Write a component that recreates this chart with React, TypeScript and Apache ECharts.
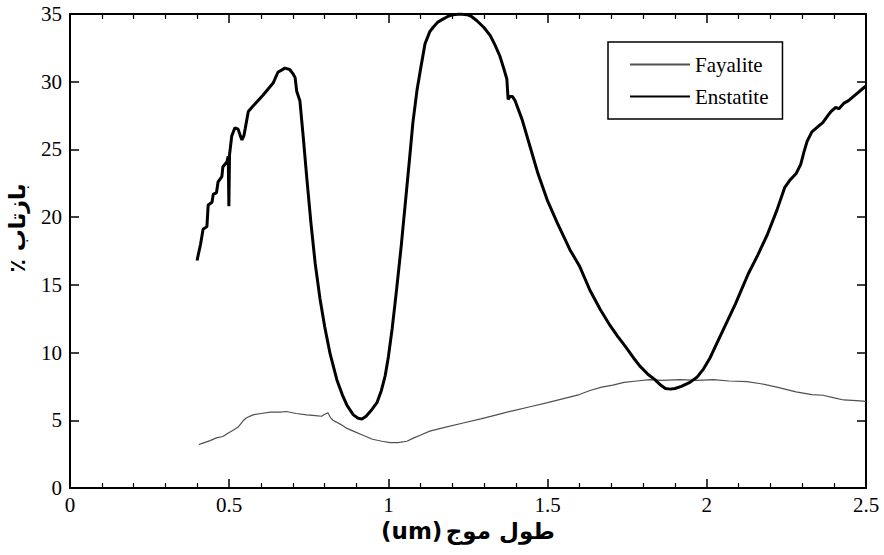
import React, { useEffect, useRef } from "react";
import * as echarts from "echarts";

const seriesNames = ["Fayalite", "Enstatite"];

const fayalite: [number, number][] = [
  [0.405, 3.2], [0.415, 3.3], [0.44, 3.5], [0.46, 3.7], [0.48, 3.8], [0.5, 4.1], [0.515, 4.3],
  [0.528, 4.5], [0.545, 5.0], [0.556, 5.2], [0.575, 5.4], [0.6, 5.5], [0.63, 5.6], [0.66, 5.6],
  [0.68, 5.65], [0.71, 5.5], [0.744, 5.4], [0.77, 5.35], [0.79, 5.3], [0.8, 5.45], [0.81, 5.55],
  [0.818, 5.2], [0.826, 5.0], [0.85, 4.7], [0.87, 4.4], [0.89, 4.2], [0.92, 3.9], [0.95, 3.6],
  [0.98, 3.45], [1.005, 3.35], [1.03, 3.35], [1.058, 3.45], [1.08, 3.7], [1.1, 3.9], [1.13, 4.2],
  [1.18, 4.5], [1.235, 4.8], [1.29, 5.1], [1.34, 5.4], [1.39, 5.7], [1.445, 6.0], [1.5, 6.3],
  [1.55, 6.6], [1.6, 6.9], [1.633, 7.2], [1.67, 7.45], [1.705, 7.6], [1.74, 7.8], [1.78, 7.9],
  [1.82, 8.0], [1.86, 7.95], [1.916, 8.0], [1.97, 7.95], [2.02, 8.0], [2.07, 7.9], [2.126, 7.85],
  [2.17, 7.7], [2.22, 7.45], [2.28, 7.1], [2.33, 6.9], [2.365, 6.85], [2.4, 6.65], [2.43, 6.5],
  [2.47, 6.45], [2.5, 6.4],
];

const enstatite: [number, number][] = [
  [0.399, 16.8], [0.41, 18.0], [0.418, 19.1], [0.43, 19.3], [0.434, 20.9], [0.446, 21.1],
  [0.45, 21.7], [0.46, 21.8], [0.465, 22.6], [0.477, 23.0], [0.48, 23.7], [0.493, 24.1],
  [0.497, 24.5], [0.499, 20.8], [0.501, 24.6], [0.508, 26.0], [0.518, 26.6], [0.528, 26.5],
  [0.535, 26.0], [0.54, 25.7], [0.546, 26.0], [0.55, 26.5], [0.56, 27.8], [0.575, 28.2],
  [0.606, 29.0], [0.638, 29.9], [0.653, 30.7], [0.675, 31.0], [0.69, 30.9], [0.7, 30.6],
  [0.707, 30.3], [0.712, 29.3], [0.722, 28.6], [0.733, 25.8], [0.744, 22.8], [0.757, 19.5],
  [0.77, 16.6], [0.785, 14.0], [0.8, 11.9], [0.817, 9.9], [0.838, 8.0], [0.855, 6.9], [0.87, 6.1],
  [0.89, 5.4], [0.905, 5.15], [0.917, 5.1], [0.93, 5.3], [0.945, 5.7], [0.964, 6.3], [0.978, 7.2],
  [0.99, 8.3], [1.0, 9.7], [1.012, 11.8], [1.025, 14.5], [1.04, 17.8], [1.055, 21.5],
  [1.068, 24.7], [1.077, 27.0], [1.09, 29.4], [1.1, 30.8], [1.115, 32.8], [1.13, 33.7],
  [1.14, 34.0], [1.155, 34.4], [1.17, 34.6], [1.185, 34.8], [1.203, 34.95], [1.225, 35.0],
  [1.247, 34.95], [1.262, 34.8], [1.278, 34.5], [1.3, 34.0], [1.32, 33.4], [1.335, 32.7],
  [1.35, 31.9], [1.362, 31.0], [1.372, 30.2], [1.376, 28.7], [1.382, 28.9], [1.39, 28.9],
  [1.398, 28.6], [1.42, 27.2], [1.445, 25.2], [1.47, 23.2], [1.5, 21.2], [1.53, 19.6],
  [1.57, 17.6], [1.6, 16.4], [1.633, 14.6], [1.665, 13.2], [1.696, 12.0], [1.72, 11.2],
  [1.743, 10.5], [1.77, 9.6], [1.79, 9.0], [1.815, 8.4], [1.837, 8.0], [1.855, 7.6], [1.87, 7.35],
  [1.885, 7.3], [1.9, 7.35], [1.92, 7.5], [1.947, 7.8], [1.97, 8.2], [1.99, 8.8], [2.01, 9.6],
  [2.03, 10.6], [2.05, 11.6], [2.07, 12.6], [2.09, 13.6], [2.11, 14.7], [2.13, 15.8], [2.16, 17.2],
  [2.19, 18.7], [2.22, 20.5], [2.245, 22.2], [2.26, 22.7], [2.28, 23.2], [2.295, 23.9],
  [2.305, 24.8], [2.315, 25.6], [2.33, 26.3], [2.35, 26.7], [2.365, 27.0], [2.38, 27.5],
  [2.39, 27.8], [2.405, 28.1], [2.415, 28.0], [2.43, 28.4], [2.445, 28.6], [2.46, 28.9],
  [2.475, 29.2], [2.49, 29.5], [2.5, 29.7],
];

const xTitleUnit = "(um)";
const xTitleText = "طول موج";
const yTitleText = "بازتاب ٪\u200F";

const serif = "'Liberation Serif', 'DejaVu Serif', serif";
const sans = "'DejaVu Sans', sans-serif";

export default function App() {
  const ref = useRef<HTMLDivElement>(null);
  useEffect(() => {
    if (!ref.current) return;
    const chart = echarts.init(ref.current, null, { renderer: "svg" });
    const axisLine = { show: true, onZero: false, lineStyle: { color: "#000", width: 2 } };
    const xCommon = {
      type: "value" as const,
      min: 0,
      max: 2.5,
      interval: 0.5,
      axisLine,
      axisTick: { inside: true, length: 9, lineStyle: { color: "#000", width: 1.5 } },
      minorTick: { show: true, splitNumber: 5, length: 5, lineStyle: { color: "#000", width: 1.2 } },
      splitLine: { show: false },
      minorSplitLine: { show: false },
    };
    const yCommon = {
      type: "value" as const,
      min: 0,
      max: 35,
      interval: 5,
      axisLine,
      axisTick: { inside: true, length: 9, lineStyle: { color: "#000", width: 1.5 } },
      splitLine: { show: false },
    };
    chart.setOption({
      animation: false,
      backgroundColor: "#fff",
      grid: { left: 70, right: 18, top: 14, bottom: 67, containLabel: false },
      xAxis: [
        {
          ...xCommon,
          position: "bottom",
          axisLabel: { color: "#000", fontFamily: serif, fontSize: 21, margin: 6 },
          name: `{u|${xTitleUnit}} {p|${xTitleText}}`,
          nameLocation: "middle",
          nameGap: 30,
          nameTextStyle: {
            rich: {
              u: { fontFamily: sans, fontWeight: "bold", fontSize: 23, color: "#000" },
              p: { fontFamily: sans, fontWeight: "bold", fontSize: 23, color: "#000" },
            },
          },
        },
        { ...xCommon, position: "top", axisLabel: { show: false } },
      ],
      yAxis: [
        {
          ...yCommon,
          position: "left",
          axisLabel: { color: "#000", fontFamily: serif, fontSize: 21, margin: 8 },
        },
        { ...yCommon, position: "right", axisLabel: { show: false } },
      ],
      legend: {
        data: seriesNames,
        orient: "vertical",
        left: 608,
        top: 42,
        padding: [12, 14, 12, 21],
        itemWidth: 60,
        itemHeight: 18,
        itemGap: 11,
        borderColor: "#000",
        borderWidth: 1.5,
        backgroundColor: "#fff",
        itemStyle: { opacity: 0 },
        textStyle: { fontFamily: serif, fontSize: 21, color: "#000" },
      },
      graphic: [
        {
          type: "text",
          x: 17,
          y: 228,
          rotation: Math.PI / 2,
          style: {
            text: yTitleText,
            fontFamily: sans,
            fontWeight: "bold",
            fontSize: 22,
            fill: "#000",
            align: "center",
            verticalAlign: "middle",
          },
        },
      ],
      series: [
        {
          name: seriesNames[0],
          type: "line",
          data: fayalite,
          showSymbol: false,
          symbol: "none",
          lineStyle: { color: "#505050", width: 1.2 },
          itemStyle: { color: "#505050" },
          z: 2,
        },
        {
          name: seriesNames[1],
          type: "line",
          data: enstatite,
          showSymbol: false,
          symbol: "none",
          lineStyle: { color: "#000", width: 3 },
          itemStyle: { color: "#000" },
          z: 3,
        },
      ],
    });
    return () => chart.dispose();
  }, []);
  return <div ref={ref} style={{ width: 884, height: 555, position: "fixed", left: 0, top: 0 }} />;
}
